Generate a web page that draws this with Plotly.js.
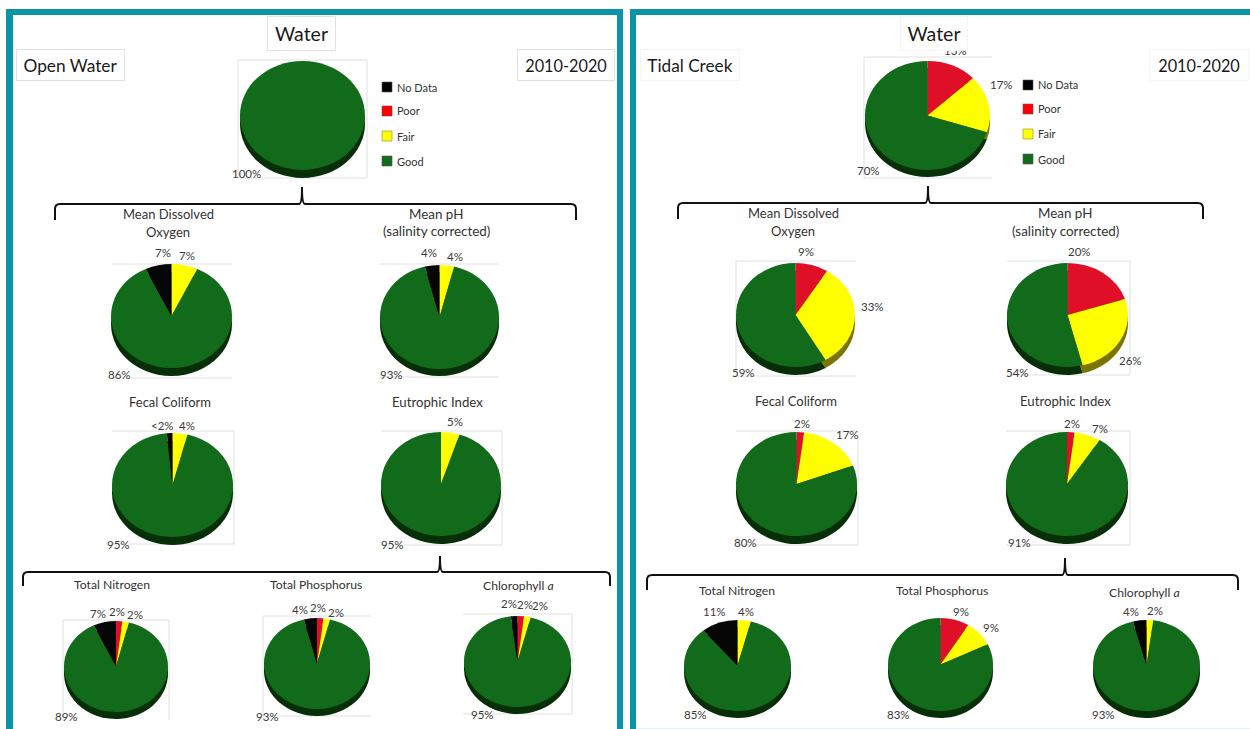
<!DOCTYPE html>
<html>
<head>
<meta charset="utf-8">
<title>Water quality 2010-2020</title>
<script src="https://cdn.plot.ly/plotly-3.0.1.min.js"></script>
<style>html,body{margin:0;padding:0;background:#fff;overflow:hidden}#chart{width:1250px;height:729px}</style>
</head>
<body>
<div id="chart"></div>
<script>
// Condition categories, in the clockwise order the slices run from 12 o'clock
const conditions = ['Poor', 'Fair', 'Good', 'No Data'];
const legendOrder = ['No Data', 'Poor', 'Fair', 'Good'];

const indicators = ['Water', 'Mean Dissolved<br>Oxygen', 'Mean pH<br>(salinity corrected)', 'Fecal Coliform',
  'Eutrophic Index', 'Total Nitrogen', 'Total Phosphorus', 'Chlorophyll <i>a</i>'];

// Percent of area per indicator, Open Water
const openNoData = [0, 7, 4, 1.5, 0, 7, 4, 2];
const openPoor   = [0, 0, 0, 0, 0, 2, 2, 2];
const openFair   = [0, 7, 4, 4, 5, 2, 2, 2];
const openGood   = [100, 86, 93, 95, 95, 89, 93, 95];

// Percent of area per indicator, Tidal Creek
const tidalNoData = [0, 0, 0, 0, 0, 11, 0, 4];
const tidalPoor   = [13, 9, 20, 2, 2, 0, 9, 0];
const tidalFair   = [17, 33, 26, 17, 7, 4, 9, 2];
const tidalGood   = [70, 59, 54, 80, 91, 85, 83, 93];

const W = 1250, H = 729;
const X = v => v / W;
const Y = v => 1 - v / H;
const FONT = 'Lato, "Open Sans", sans-serif';

const faceColors = {'Poor': '#e00f28', 'Fair': '#ffff00', 'Good': '#126a1b', 'No Data': '#060606'};
const sideColors = {'Poor': '#760814', 'Fair': '#7c7400', 'Good': '#062f07', 'No Data': '#000000'};
const swatchColors = {'Poor': '#ff0000', 'Fair': '#ffff00', 'Good': '#126a1b', 'No Data': '#000000'};

// Pie placement: left, right, top, bottom of the upper face, then rim depth (pixels)
const openBoxes = [
  [240, 365, 61, 170, 8], [111, 232, 264, 368, 8], [380, 499, 265, 369, 7], [112, 233, 433, 537, 8],
  [381, 501, 432, 536, 8], [64, 168, 621, 712, 7], [264, 370, 618, 709, 7], [464, 571, 616, 707, 7]
];
const tidalBoxes = [
  [865, 990, 61, 170, 7], [736, 855, 263, 367, 8], [1007, 1128, 263, 367, 8], [736, 857, 432, 536, 8],
  [1006, 1128, 432, 536, 8], [684, 791, 620, 711, 7], [888, 993, 618, 711, 7], [1093, 1200, 620, 711, 7]
];

// Thin frame pieces around each pie: x0, y0, x1, y1
const frameLines = [
  [238, 60, 367, 60], [238, 178, 367, 178], [238, 60, 238, 178], [367, 60, 367, 178],
  [112, 264, 232, 264], [112, 378, 232, 378],
  [380, 264, 499, 264], [380, 377, 499, 377],
  [112, 431, 234, 431], [112, 544, 234, 544], [234, 431, 234, 544],
  [381, 431, 502, 431], [381, 545, 502, 545], [502, 431, 502, 545],
  [63, 620, 169, 620], [63, 620, 63, 720], [169, 620, 169, 720],
  [263, 616, 371, 616], [263, 616, 263, 716], [263, 716, 371, 716],
  [463, 614, 572, 614], [463, 714, 572, 714], [572, 614, 572, 714],
  [864, 57, 992, 57], [864, 178, 992, 178], [864, 57, 864, 178],
  [736, 261, 856, 261], [736, 376, 856, 376], [736, 261, 736, 376],
  [1007, 261, 1130, 261], [1007, 375, 1130, 375], [1130, 261, 1130, 375],
  [736, 431, 858, 431], [736, 545, 858, 545], [858, 431, 858, 545],
  [1006, 431, 1130, 431], [1006, 545, 1130, 545], [1130, 431, 1130, 545]
];

// Indicator titles: x, y of the centred text block, font size per indicator
const openTitleAt = [null, [168, 223], [436, 222.5], [170, 402], [437, 402], [112, 584], [316, 584], [518, 585]];
const tidalTitleAt = [null, [793, 222], [1065, 221.5], [796, 401], [1065, 401], [737, 590], [942, 590], [1144, 592]];
const titleSizes = [0, 13, 13.4, 13, 13.2, 12.2, 12.2, 12.2];
const TITLE_LINE_GAP = 18;

// Value label anchors per pie, in the order Poor, Fair, Good, No Data
const openLabelAt = [
  [null, null, [246, 173], null],
  [null, [187, 255], [119, 374], [163, 252]],
  [null, [455, 256], [391, 374], [429, 252]],
  [null, [187, 425], [118, 544], [162, 425]],
  [null, [455, 421], [392, 544], null],
  [[117, 611], [135, 614], [66, 716], [98, 613]],
  [[318, 607], [336, 612], [267, 716], [300, 609]],
  [[525, 604], [540, 605], [482, 714], [509, 603]]
];
const tidalLabelAt = [
  [[955, 50], [1001, 85], [868, 171], null],
  [[806, 251], [872, 306], [743, 372], null],
  [[1079, 251], [1130, 360], [1017, 372], null],
  [[802, 423], [847, 434], [745, 542], null],
  [[1072, 423], [1100, 428], [1019, 542], null],
  [null, [746, 611], [695, 714], [715, 611]],
  [[961, 611], [991, 627], [899, 714], null],
  [null, [1155, 610], [1103, 714], [1131, 611]]
];

const traces = [];
const annotations = [];
const shapes = [];
const ellipseRatio = [];

function formatPct(v) { return v < 2 ? '<2%' : v + '%'; }

function text(x, y, str, size, color, anchor) {
  annotations.push({
    xref: 'paper', yref: 'paper', x: X(x), y: Y(y), text: str, showarrow: false,
    xanchor: anchor || 'center', yanchor: 'middle', align: 'center',
    font: {family: FONT, size: size, color: color || '#333333'}
  });
}

function pie(values, box, colors, shift) {
  const [x0, x1, y0, y1] = box;
  const a = (x1 - x0) / 2;
  const cx = (x0 + x1) / 2, cy = (y0 + y1) / 2 + shift;
  traces.push({
    type: 'pie', labels: conditions, values: values, sort: false, direction: 'clockwise', rotation: 0,
    marker: {colors: conditions.map(c => colors[c]), line: {width: 0}},
    textinfo: 'none', hoverinfo: 'label+value', showlegend: false,
    domain: {x: [X(cx - a), X(cx + a)], y: [Y(cy + a), Y(cy - a)]}
  });
  ellipseRatio.push((y1 - y0) / (x1 - x0));
}

function addSite(noData, poor, fair, good, boxes, titleAt, labelAt) {
  indicators.forEach((name, i) => {
    const values = [poor[i], fair[i], good[i], noData[i]];
    pie(values, boxes[i], sideColors, boxes[i][4]);
    pie(values, boxes[i], faceColors, 0);
    if (titleAt[i]) {
      const lines = name.split('<br>');
      const first = titleAt[i][1] - (lines.length - 1) * TITLE_LINE_GAP / 2;
      lines.forEach((line, n) => text(titleAt[i][0], first + n * TITLE_LINE_GAP, line, titleSizes[i], '#333333'));
    }
    labelAt[i].forEach((at, j) => { if (at) text(at[0], at[1], formatPct(values[j]), 11.5, '#3a3a3a'); });
  });
}

// Teal panel frames
const TEAL = '#0b93a6';
function rect(x0, y0, x1, y1, fill, line, lw) {
  shapes.push({type: 'rect', xref: 'paper', yref: 'paper', x0: X(x0), x1: X(x1), y0: Y(y0), y1: Y(y1),
    fillcolor: fill, line: {color: line || fill, width: lw || 0}, layer: 'below'});
}
rect(6, 9, 623, 729, TEAL);
rect(13, 15, 617, 729, '#ffffff');
rect(630, 9, 1250, 729, TEAL);
rect(636, 15, 1250, 728, '#ffffff');
rect(636, 728, 1250, 729, '#e3f2f4');

frameLines.forEach(l => shapes.push({type: 'line', xref: 'paper', yref: 'paper',
  x0: X(l[0]), y0: Y(l[1]), x1: X(l[2]), y1: Y(l[3]), line: {color: '#e0e0e0', width: 1}, layer: 'below'}));

// Curly brackets tying the indicators together
function bracket(x0, xm, x1, yTip, yBar, yEnd) {
  const p = (x, y) => X(x) + ' ' + Y(y);
  const d = 'M' + p(x0, yEnd) + ' L' + p(x0, yBar + 5) + ' Q' + p(x0, yBar) + ' ' + p(x0 + 5, yBar) +
    ' L' + p(xm - 3, yBar) + ' Q' + p(xm, yBar) + ' ' + p(xm, yTip) +
    ' Q' + p(xm, yBar) + ' ' + p(xm + 3, yBar) +
    ' L' + p(x1 - 5, yBar) + ' Q' + p(x1, yBar) + ' ' + p(x1, yBar + 5) + ' L' + p(x1, yEnd);
  shapes.push({type: 'path', xref: 'paper', yref: 'paper', path: d, line: {color: '#111111', width: 2}, layer: 'above'});
}
bracket(55, 302, 576, 187, 204, 220);
bracket(678, 928, 1203, 186, 203, 219);
bracket(23, 440, 610, 556, 572, 586);
bracket(647, 1065, 1238, 558, 575, 590);

// Category keys
function key(xSwatch, ys) {
  legendOrder.forEach((name, i) => {
    rect(xSwatch, ys[i] - 5, xSwatch + 10, ys[i] + 5, swatchColors[name], name === 'Fair' ? '#8a8a30' : '#555555', 0.6);
    text(xSwatch + 13, ys[i], name, 11, '#333333', 'left');
  });
}
key(382, [87, 111, 136, 161]);
key(1023, [85, 109, 134, 159]);

addSite(openNoData, openPoor, openFair, openGood, openBoxes, openTitleAt, openLabelAt);
addSite(tidalNoData, tidalPoor, tidalFair, tidalGood, tidalBoxes, tidalTitleAt, tidalLabelAt);

// Heading plates sit last so they cover anything running underneath them
function plate(x, y, w, h, str, size, border) {
  annotations.push({
    xref: 'paper', yref: 'paper', x: X(x), y: Y(y), width: w, height: h, text: str, showarrow: false,
    xanchor: 'center', yanchor: 'middle', align: 'center', bgcolor: '#ffffff',
    bordercolor: border || '#e2e2e2', borderwidth: 1, borderpad: 0,
    font: {family: FONT, size: size, color: '#1a1a1a'}
  });
}
plate(301, 33, 67, 33, 'Water', 19.5);
plate(70, 65, 107, 30, 'Open Water', 17.3);
plate(566, 65, 96, 30, '2010-2020', 16.3);
plate(934, 33, 66, 33, 'Water', 19.5, '#f4f4f4');
plate(690, 65, 98, 30, 'Tidal Creek', 17.2, '#f4f4f4');
plate(1199, 65, 98, 30, '2010-2020', 16.3, '#f4f4f4');

const layout = {
  width: W, height: H, margin: {l: 0, r: 0, t: 0, b: 0},
  paper_bgcolor: '#ffffff', plot_bgcolor: '#ffffff', showlegend: false,
  shapes: shapes, annotations: annotations, font: {family: FONT}
};

// Plotly pies are always round, so each one is flattened about its centre to give the tilted look
function flattenPies(gd) {
  const groups = gd.querySelectorAll('.pielayer .trace');
  groups.forEach((g, i) => {
    const c = gd.calcdata[i][0];
    const k = ellipseRatio[i];
    g.setAttribute('transform', 'translate(' + c.cx + ',' + c.cy + ') scale(1,' + k + ') translate(' + (-c.cx) + ',' + (-c.cy) + ')');
  });
}

const gd = document.getElementById('chart');
Plotly.newPlot(gd, traces, layout, {staticPlot: true, displayModeBar: false}).then(() => {
  flattenPies(gd);
  gd.on('plotly_afterplot', () => flattenPies(gd));
});
</script>
</body>
</html>
